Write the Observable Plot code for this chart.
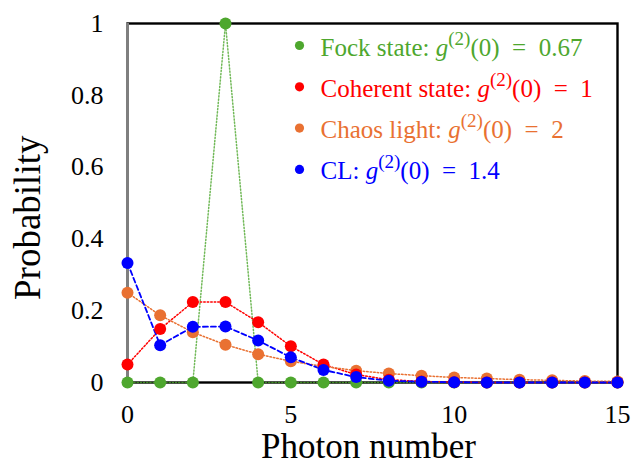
<!DOCTYPE html>
<html>
<head>
<meta charset="utf-8">
<script src="https://cdn.jsdelivr.net/npm/d3@7"></script>
<script src="https://cdn.jsdelivr.net/npm/@observablehq/plot@0.6"></script>
<style>
  html, body { margin: 0; padding: 0; background: #fff; }
  #chart svg { display: block; }
  #chart svg, #chart svg text { font-family: "Liberation Serif", serif !important; }
</style>
</head>
<body>
<div id="chart"></div>
<script>
// Photon-number distributions, mean photon number 3
const photonNumbers = [0, 1, 2, 3, 4, 5, 6, 7, 8, 9, 10, 11, 12, 13, 14, 15];
const fock      = [0, 0, 0, 1, 0, 0, 0, 0, 0, 0, 0, 0, 0, 0, 0, 0];
const coherent  = [0.050, 0.149, 0.224, 0.224, 0.168, 0.101, 0.050, 0.022, 0.008, 0.003, 0.001, 0, 0, 0, 0, 0];
const chaos     = [0.250, 0.187, 0.140, 0.105, 0.079, 0.059, 0.045, 0.033, 0.025, 0.019, 0.014, 0.011, 0.008, 0.006, 0.004, 0.003];
const cl        = [0.333, 0.104, 0.155, 0.156, 0.117, 0.070, 0.035, 0.015, 0.005, 0.002, 0.001, 0, 0, 0, 0, 0];

const seriesNames = ["Fock state", "Coherent state", "Chaos light", "CL"];
const g2Values = ["0.67", "1", "2", "1.4"];
const seriesValues = [fock, coherent, chaos, cl];
const seriesColors = ["#4ea72e", "#ff0000", "#e97132", "#0000ff"];
const seriesDash = ["1.2 2", "1.5 2", "1.5 2", "5 3"];

const xTicks = [0, 5, 10, 15];
const yTicks = [0, 0.2, 0.4, 0.6, 0.8, 1];

const rows = seriesNames.flatMap((name, s) =>
  photonNumbers.map((n, i) => ({series: name, n, p: seriesValues[s][i]}))
);
const bySeries = name => rows.filter(d => d.series === name);

const serif = "Liberation Serif, serif";

const lineMarks = seriesNames.map((name, s) =>
  Plot.line(bySeries(name), {
    x: "n", y: "p", stroke: seriesColors[s],
    strokeWidth: s === 3 ? 1.8 : 1.5, strokeDasharray: seriesDash[s],
    strokeOpacity: s === 0 ? 0.8 : 1
  })
);
// markers: Fock first, then chaos, coherent, CL on top
const dotOrder = [0, 2, 1, 3];
const dotMarks = dotOrder.map(s =>
  Plot.dot(bySeries(seriesNames[s]), {x: "n", y: "p", r: 6, fill: seriesColors[s], stroke: "none"})
);

const legendDots = seriesNames.map((name, s) =>
  Plot.dot([name], {frameAnchor: "top-left", dx: 172, dy: 22 + 41.3 * s, r: 4.6, fill: seriesColors[s]})
);
const legendTexts = seriesNames.map((name, s) =>
  Plot.text([name], {
    frameAnchor: "top-left", dx: 193, dy: 24 + 41.3 * s, text: d => d,
    textAnchor: "start", lineAnchor: "middle", fill: seriesColors[s],
    fontSize: 25, fontFamily: serif
  })
);

const chart = Plot.plot({
  width: 631,
  height: 464,
  marginLeft: 127,
  marginRight: 14,
  marginTop: 23,
  marginBottom: 82,
  style: {fontFamily: serif, background: "#fff", color: "#000"},
  x: {domain: [0, 15]},
  y: {domain: [0, 1]},
  marks: [
    Plot.frame({stroke: "#000", strokeWidth: 2.4}),
    Plot.ruleX([0], {stroke: "#7f7f7f", strokeWidth: 3}),
    Plot.axisX({ticks: xTicks, tickSize: 0, tickPadding: 22, fontSize: 26, fontFamily: serif, label: null, tickFormat: d => String(d)}),
    Plot.axisY({ticks: yTicks, tickSize: 0, tickPadding: 24, fontSize: 26, fontFamily: serif, label: null, tickFormat: d => String(d)}),
    Plot.text(["Photon number"], {frameAnchor: "bottom", dx: -4, dy: 75, lineAnchor: "bottom", fontSize: 35, fontFamily: serif, text: d => d}),
    Plot.text(["Probability"], {frameAnchor: "left", dx: -99, dy: 97, rotate: -90, fontSize: 37, fontFamily: serif, text: d => d}),
    ...lineMarks,
    ...dotMarks,
    ...legendDots,
    ...legendTexts
  ]
});

// Rich legend labels: "name: g^(2)(0) = value"
d3.select(chart).selectAll("text").each(function() {
  const s = seriesNames.indexOf(this.textContent);
  if (s < 0 || this.closest("[aria-label='text']") === null) return;
  const t = d3.select(this);
  t.text(null);
  t.append("tspan").text(seriesNames[s] + ": ");
  t.append("tspan").attr("font-style", "italic").text("g");
  t.append("tspan").attr("font-size", 19).attr("dy", -11).text("(2)");
  t.append("tspan").attr("dy", 11).text("(0)\u2002=\u2002" + g2Values[s]);
});

document.getElementById("chart").append(chart);
</script>
</body>
</html>
